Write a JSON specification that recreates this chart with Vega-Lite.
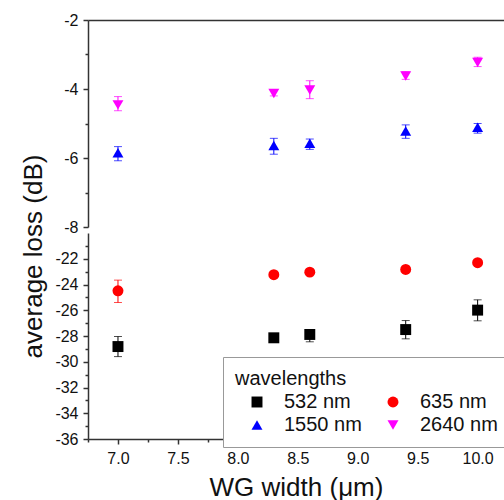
{
  "$schema": "https://vega.github.io/schema/vega-lite/v6.json",
  "padding": {"left": 19, "top": 12, "right": 0, "bottom": 0},
  "bounds": "flush",
  "config": {
    "font": "Liberation Sans",
    "view": {"stroke": null},
    "axis": {"grid": false, "domainColor": "#333", "domainWidth": 1.5, "tickColor": "#333", "tickWidth": 1.5, "labelFontSize": 16, "labelColor": "#111", "titleFontSize": 26, "titleFontWeight": "normal", "titleColor": "#111", "labelFont": "Liberation Sans", "titleFont": "Liberation Sans"}
  },
  "datasets": {
    "top": [
      {"w": 7.0, "loss": -4.46, "lo": -4.63, "hi": -4.22, "wl": "2640 nm"},
      {"w": 8.3, "loss": -4.13, "lo": -4.2, "hi": -4.02, "wl": "2640 nm"},
      {"w": 8.6, "loss": -4.03, "lo": -4.28, "hi": -3.76, "wl": "2640 nm"},
      {"w": 9.4, "loss": -3.62, "lo": -3.72, "hi": -3.5, "wl": "2640 nm"},
      {"w": 10.0, "loss": -3.23, "lo": -3.35, "hi": -3.08, "wl": "2640 nm"},
      {"w": 7.0, "loss": -5.85, "lo": -6.08, "hi": -5.67, "wl": "1550 nm"},
      {"w": 8.3, "loss": -5.64, "lo": -5.89, "hi": -5.43, "wl": "1550 nm"},
      {"w": 8.6, "loss": -5.57, "lo": -5.75, "hi": -5.45, "wl": "1550 nm"},
      {"w": 9.4, "loss": -5.22, "lo": -5.43, "hi": -5.04, "wl": "1550 nm"},
      {"w": 10.0, "loss": -5.11, "lo": -5.28, "hi": -5.0, "wl": "1550 nm"}
    ],
    "bottom": [
      {"w": 7.0, "loss": -24.49, "lo": -25.4, "hi": -23.66, "wl": "635 nm"},
      {"w": 8.3, "loss": -23.24, "lo": -23.4, "hi": -23.1, "wl": "635 nm"},
      {"w": 8.6, "loss": -23.04, "lo": -23.2, "hi": -22.9, "wl": "635 nm"},
      {"w": 9.4, "loss": -22.83, "lo": -23.0, "hi": -22.7, "wl": "635 nm"},
      {"w": 10.0, "loss": -22.31, "lo": -22.45, "hi": -22.15, "wl": "635 nm"},
      {"w": 7.0, "loss": -28.82, "lo": -29.6, "hi": -28.04, "wl": "532 nm"},
      {"w": 8.3, "loss": -28.14, "lo": -28.3, "hi": -28.0, "wl": "532 nm"},
      {"w": 8.6, "loss": -27.88, "lo": -28.45, "hi": -27.6, "wl": "532 nm"},
      {"w": 9.4, "loss": -27.5, "lo": -28.22, "hi": -26.8, "wl": "532 nm"},
      {"w": 10.0, "loss": -25.99, "lo": -26.82, "hi": -25.19, "wl": "532 nm"}
    ],
    "breaks": [{"mark": "/"}]
  },
  "spacing": 6,
  "vconcat": [
    {
      "width": 416,
      "height": 207,
      "data": {"name": "top"},
      "encoding": {
        "x": {"field": "w", "type": "quantitative", "scale": {"domain": [6.75, 10.22], "nice": false, "zero": false}, "axis": {"orient": "top", "labels": false, "ticks": false, "title": null}},
        "y": {"field": "loss", "type": "quantitative", "scale": {"domain": [-8, -2], "nice": false, "zero": false}, "axis": {"title": null, "values": [-8, -7, -6, -5, -4, -3, -2], "labelExpr": "datum.value % 2 == 0 ? '' + datum.value : ''", "tickSize": {"condition": {"test": "datum.value % 2 != 0", "value": 3}, "value": 5}, "labelPadding": 5}}
      },
      "layer": [
        {
          "transform": [{"filter": "datum.wl == '2640 nm'"}],
          "mark": {"type": "errorbar", "ticks": {"size": 8}, "thickness": 1, "color": "#ff00ff"},
          "encoding": {
            "y": {"field": "lo", "type": "quantitative", "scale": {"domain": [-8, -2], "nice": false, "zero": false}, "axis": {"title": null, "values": [-8, -7, -6, -5, -4, -3, -2], "labelExpr": "datum.value % 2 == 0 ? '' + datum.value : ''", "tickSize": {"condition": {"test": "datum.value % 2 != 0", "value": 3}, "value": 5}, "labelPadding": 5}},
            "y2": {"field": "hi"}
          }
        },
        {
          "transform": [{"filter": "datum.wl == '1550 nm'"}],
          "mark": {"type": "errorbar", "ticks": {"size": 8}, "thickness": 1, "color": "#0000ff"},
          "encoding": {
            "y": {"field": "lo", "type": "quantitative", "scale": {"domain": [-8, -2], "nice": false, "zero": false}, "axis": {"title": null, "values": [-8, -7, -6, -5, -4, -3, -2], "labelExpr": "datum.value % 2 == 0 ? '' + datum.value : ''", "tickSize": {"condition": {"test": "datum.value % 2 != 0", "value": 3}, "value": 5}, "labelPadding": 5}},
            "y2": {"field": "hi"}
          }
        },
        {
          "data": {"name": "breaks"},
          "mark": {"type": "text", "fontSize": 15, "angle": 40, "color": "#333", "align": "center", "baseline": "middle", "dy": -2},
          "encoding": {
            "text": {"field": "mark"},
            "x": {"datum": 6.75, "type": "quantitative", "scale": {"domain": [6.75, 10.22], "nice": false, "zero": false}, "axis": {"orient": "top", "labels": false, "ticks": false, "title": null}},
            "y": {"datum": -8, "type": "quantitative", "scale": {"domain": [-8, -2], "nice": false, "zero": false}, "axis": {"title": null, "values": [-8, -7, -6, -5, -4, -3, -2], "labelExpr": "datum.value % 2 == 0 ? '' + datum.value : ''", "tickSize": {"condition": {"test": "datum.value % 2 != 0", "value": 3}, "value": 5}, "labelPadding": 5}}
          }
        },
        {
          "mark": {"type": "point", "filled": true, "size": 120, "opacity": 1},
          "encoding": {
            "color": {"field": "wl", "type": "nominal", "scale": {"domain": ["532 nm", "1550 nm", "635 nm", "2640 nm"], "range": ["#000000", "#0000ff", "#ff0000", "#ff00ff"]}, "legend": {"orient": "none", "legendX": 135, "legendY": 337, "columns": 2, "title": "wavelengths", "titleFontSize": 20, "titleFontWeight": "normal", "labelFontSize": 20, "symbolSize": 120, "symbolStrokeWidth": 0, "strokeColor": "#999", "fillColor": "white", "padding": 12, "symbolOffset": 12, "labelOffset": 17, "columnPadding": 9, "rowPadding": 3, "titlePadding": 3, "labelColor": "#111", "titleColor": "#111"}},
            "shape": {"field": "wl", "type": "nominal", "scale": {"domain": ["532 nm", "1550 nm", "635 nm", "2640 nm"], "range": ["square", "triangle-up", "circle", "triangle-down"]}, "legend": {"orient": "none", "legendX": 135, "legendY": 337, "columns": 2, "title": "wavelengths", "titleFontSize": 20, "titleFontWeight": "normal", "labelFontSize": 20, "symbolSize": 120, "symbolStrokeWidth": 0, "strokeColor": "#999", "fillColor": "white", "padding": 12, "symbolOffset": 12, "labelOffset": 17, "columnPadding": 9, "rowPadding": 3, "titlePadding": 3, "labelColor": "#111", "titleColor": "#111"}}
          }
        }
      ]
    },
    {
      "width": 416,
      "height": 206,
      "data": {"name": "bottom"},
      "encoding": {
        "x": {"field": "w", "type": "quantitative", "scale": {"domain": [6.75, 10.22], "nice": false, "zero": false}, "axis": {"title": "WG width (μm)", "values": [6.75, 7, 7.25, 7.5, 7.75, 8, 8.25, 8.5, 8.75, 9, 9.25, 9.5, 9.75, 10], "labelExpr": "(datum.value * 2) % 1 == 0 ? format(datum.value, '.1f') : ''", "tickSize": {"condition": {"test": "(datum.value * 2) % 1 != 0", "value": 3}, "value": 5}, "labelPadding": 6, "titlePadding": 8}},
        "y": {"field": "loss", "type": "quantitative", "scale": {"domain": [-36, -20], "nice": false, "zero": false}, "axis": {"title": "average loss (dB)", "titleX": -47, "titleY": 23, "titleBaseline": "alphabetic", "titleAngle": 270, "titleAlign": "center", "values": [-36, -35, -34, -33, -32, -31, -30, -29, -28, -27, -26, -25, -24, -23, -22, -21], "labelExpr": "datum.value % 2 == 0 ? '' + datum.value : ''", "tickSize": {"condition": {"test": "datum.value % 2 != 0", "value": 3}, "value": 5}, "labelPadding": 5}}
      },
      "layer": [
        {
          "transform": [{"filter": "datum.wl == '635 nm'"}],
          "mark": {"type": "errorbar", "ticks": {"size": 8}, "thickness": 1, "color": "#ff0000"},
          "encoding": {
            "y": {"field": "lo", "type": "quantitative", "scale": {"domain": [-36, -20], "nice": false, "zero": false}, "axis": {"title": "average loss (dB)", "titleX": -47, "titleY": 23, "titleBaseline": "alphabetic", "titleAngle": 270, "titleAlign": "center", "values": [-36, -35, -34, -33, -32, -31, -30, -29, -28, -27, -26, -25, -24, -23, -22, -21], "labelExpr": "datum.value % 2 == 0 ? '' + datum.value : ''", "tickSize": {"condition": {"test": "datum.value % 2 != 0", "value": 3}, "value": 5}, "labelPadding": 5}},
            "y2": {"field": "hi"}
          }
        },
        {
          "transform": [{"filter": "datum.wl == '532 nm'"}],
          "mark": {"type": "errorbar", "ticks": {"size": 8}, "thickness": 1, "color": "#000000"},
          "encoding": {
            "y": {"field": "lo", "type": "quantitative", "scale": {"domain": [-36, -20], "nice": false, "zero": false}, "axis": {"title": "average loss (dB)", "titleX": -47, "titleY": 23, "titleBaseline": "alphabetic", "titleAngle": 270, "titleAlign": "center", "values": [-36, -35, -34, -33, -32, -31, -30, -29, -28, -27, -26, -25, -24, -23, -22, -21], "labelExpr": "datum.value % 2 == 0 ? '' + datum.value : ''", "tickSize": {"condition": {"test": "datum.value % 2 != 0", "value": 3}, "value": 5}, "labelPadding": 5}},
            "y2": {"field": "hi"}
          }
        },
        {
          "data": {"name": "breaks"},
          "mark": {"type": "text", "fontSize": 15, "angle": 40, "color": "#333", "align": "center", "baseline": "middle", "dy": 1},
          "encoding": {
            "text": {"field": "mark"},
            "x": {"datum": 6.75, "type": "quantitative", "scale": {"domain": [6.75, 10.22], "nice": false, "zero": false}, "axis": {"title": "WG width (μm)", "values": [6.75, 7, 7.25, 7.5, 7.75, 8, 8.25, 8.5, 8.75, 9, 9.25, 9.5, 9.75, 10], "labelExpr": "(datum.value * 2) % 1 == 0 ? format(datum.value, '.1f') : ''", "tickSize": {"condition": {"test": "(datum.value * 2) % 1 != 0", "value": 3}, "value": 5}, "labelPadding": 6, "titlePadding": 8}},
            "y": {"datum": -20, "type": "quantitative", "scale": {"domain": [-36, -20], "nice": false, "zero": false}, "axis": {"title": "average loss (dB)", "titleX": -47, "titleY": 23, "titleBaseline": "alphabetic", "titleAngle": 270, "titleAlign": "center", "values": [-36, -35, -34, -33, -32, -31, -30, -29, -28, -27, -26, -25, -24, -23, -22, -21], "labelExpr": "datum.value % 2 == 0 ? '' + datum.value : ''", "tickSize": {"condition": {"test": "datum.value % 2 != 0", "value": 3}, "value": 5}, "labelPadding": 5}}
          }
        },
        {
          "data": {"name": "breaks"},
          "mark": {"type": "text", "fontSize": 15, "angle": 40, "color": "#333", "align": "center", "baseline": "middle", "dy": -3},
          "encoding": {
            "text": {"field": "mark"},
            "x": {"datum": 10.19, "type": "quantitative", "scale": {"domain": [6.75, 10.22], "nice": false, "zero": false}, "axis": {"title": "WG width (μm)", "values": [6.75, 7, 7.25, 7.5, 7.75, 8, 8.25, 8.5, 8.75, 9, 9.25, 9.5, 9.75, 10], "labelExpr": "(datum.value * 2) % 1 == 0 ? format(datum.value, '.1f') : ''", "tickSize": {"condition": {"test": "(datum.value * 2) % 1 != 0", "value": 3}, "value": 5}, "labelPadding": 6, "titlePadding": 8}},
            "y": {"datum": -20, "type": "quantitative", "scale": {"domain": [-36, -20], "nice": false, "zero": false}, "axis": {"title": "average loss (dB)", "titleX": -47, "titleY": 23, "titleBaseline": "alphabetic", "titleAngle": 270, "titleAlign": "center", "values": [-36, -35, -34, -33, -32, -31, -30, -29, -28, -27, -26, -25, -24, -23, -22, -21], "labelExpr": "datum.value % 2 == 0 ? '' + datum.value : ''", "tickSize": {"condition": {"test": "datum.value % 2 != 0", "value": 3}, "value": 5}, "labelPadding": 5}}
          }
        },
        {
          "mark": {"type": "point", "filled": true, "size": 120, "opacity": 1},
          "encoding": {
            "color": {"field": "wl", "type": "nominal", "scale": {"domain": ["532 nm", "1550 nm", "635 nm", "2640 nm"], "range": ["#000000", "#0000ff", "#ff0000", "#ff00ff"]}, "legend": {"orient": "none", "legendX": 135, "legendY": 337, "columns": 2, "title": "wavelengths", "titleFontSize": 20, "titleFontWeight": "normal", "labelFontSize": 20, "symbolSize": 120, "symbolStrokeWidth": 0, "strokeColor": "#999", "fillColor": "white", "padding": 12, "symbolOffset": 12, "labelOffset": 17, "columnPadding": 9, "rowPadding": 3, "titlePadding": 3, "labelColor": "#111", "titleColor": "#111"}},
            "shape": {"field": "wl", "type": "nominal", "scale": {"domain": ["532 nm", "1550 nm", "635 nm", "2640 nm"], "range": ["square", "triangle-up", "circle", "triangle-down"]}, "legend": {"orient": "none", "legendX": 135, "legendY": 337, "columns": 2, "title": "wavelengths", "titleFontSize": 20, "titleFontWeight": "normal", "labelFontSize": 20, "symbolSize": 120, "symbolStrokeWidth": 0, "strokeColor": "#999", "fillColor": "white", "padding": 12, "symbolOffset": 12, "labelOffset": 17, "columnPadding": 9, "rowPadding": 3, "titlePadding": 3, "labelColor": "#111", "titleColor": "#111"}}
          }
        }
      ]
    }
  ],
  "resolve": {"scale": {"color": "shared", "shape": "shared"}}
}
